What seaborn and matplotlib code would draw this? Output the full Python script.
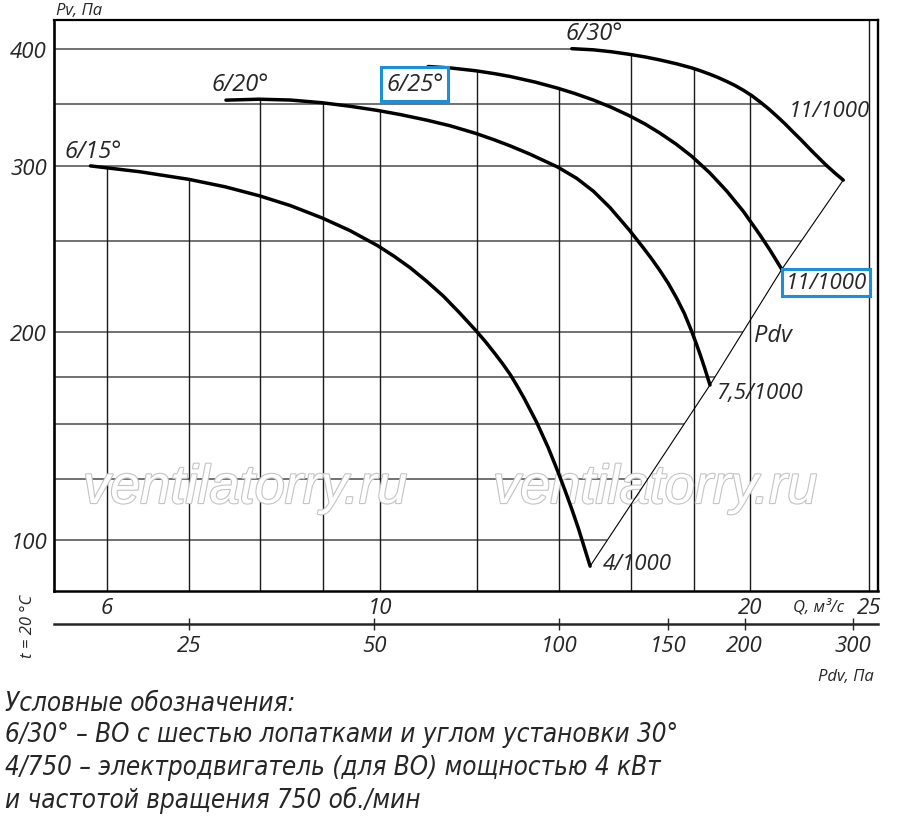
import numpy as np
import pandas as pd
import matplotlib
matplotlib.use("Agg")
import matplotlib.pyplot as plt
import seaborn as sns
from matplotlib import patheffects, font_manager
from matplotlib.ticker import NullLocator

# fan curves: Q (m3/s) and Pv (Pa)
q_15 = [5.82, 6.39, 7.00, 7.49, 7.98, 8.46, 8.98, 9.46, 9.96, 10.27, 10.59, 10.92, 11.27, 11.61, 11.97,
        12.19, 12.41, 12.59, 12.77, 12.93, 13.10, 13.42, 13.71, 13.96, 14.15, 14.33, 14.50, 14.64, 14.83]
pv_15 = [300.2, 295.9, 290.5, 285.3, 279.2, 272.6, 264.5, 256.5, 247.3, 241.0, 234.2, 226.6, 218.4, 209.8, 200.9,
         194.4, 187.5, 181.9, 176.1, 170.0, 163.4, 150.8, 138.8, 128.2, 119.9, 112.0, 104.7, 98.6, 90.9]

q_20 = [7.50, 7.98, 8.46, 8.98, 9.46, 9.96, 10.39, 10.92, 11.41, 11.97, 12.41, 12.77, 13.25, 13.96,
        14.46, 14.92, 15.39, 15.96, 16.38, 16.64, 16.90, 17.17, 17.44, 17.69, 17.94, 18.08, 18.22, 18.39, 18.56]
pv_20 = [353.4, 354.2, 353.5, 351.2, 348.2, 344.6, 341.1, 336.4, 331.7, 325.5, 320.1, 315.5, 309.1, 299.3,
         291.3, 282.3, 271.3, 256.8, 246.0, 239.4, 232.6, 225.3, 217.3, 209.4, 200.2, 193.7, 187.1, 178.9, 170.3]

q_25 = [10.95, 11.41, 11.97, 12.41, 12.77, 13.38, 13.96, 14.42, 14.92, 15.42, 15.96, 16.44, 16.90, 17.42,
        17.94, 18.56, 19.15, 19.76, 20.38, 20.77, 21.23]
pv_25 = [383.2, 381.9, 379.3, 376.6, 374.1, 369.1, 363.7, 359.0, 353.5, 347.4, 340.1, 333.1, 325.7, 316.9,
         307.4, 295.0, 282.4, 268.7, 253.8, 244.5, 233.3]

q_30 = [14.33, 14.92, 15.42, 15.96, 16.44, 16.90, 17.42, 17.94, 18.22, 18.56, 18.84, 19.15, 19.45, 19.76,
        20.08, 20.38, 20.69, 21.03, 21.36, 21.69, 22.01, 22.38, 22.72, 23.09, 23.46, 23.82]
pv_30 = [400.0, 398.9, 397.1, 394.6, 392.1, 389.3, 385.8, 381.9, 379.4, 376.1, 373.2, 369.7, 366.1, 361.9,
         357.1, 352.0, 346.4, 339.8, 333.3, 326.5, 320.3, 313.0, 306.8, 300.4, 294.9, 290.0]

curve_names = ["6/15°", "6/20°", "6/25°", "6/30°"]
motor_names = ["4/1000", "7,5/1000", "11/1000", "11/1000"]

q_grid = [6, 7, 8, 9, 10, 12, 14, 16, 18, 20, 25]
pv_grid = [100, 125, 150, 175, 200, 250, 300, 350, 400]
q_ticks = [6, 10, 20, 25]
pv_ticks = [100, 200, 300, 400]
pdv_ticks = [25, 50, 100, 150, 200, 300]
K_PDV = 0.51  # Pdv = K * Q^2

notes = ["Условные обозначения:",
         "6/30° – ВО с шестью лопатками и углом установки 30°",
         "4/750 – электродвигатель (для ВО) мощностью 4 кВт",
         "и частотой вращения 750 об./мин"]

# the chart's pressure axis is not a clean log scale, so use knots
KNOT_V = np.log([10, 100, 125, 150, 175, 200, 250, 300, 350, 400, 2000])
KNOT_P = -np.array([1170, 541, 480, 425, 377.5, 333, 242, 167, 105, 49.5, -610])


def fwd(v):
    return np.interp(np.log(np.maximum(np.asarray(v, float), 1e-6)), KNOT_V, KNOT_P)


def inv(p):
    return np.exp(np.interp(np.asarray(p, float), KNOT_P, KNOT_V))


sns.set_style("white")
TICK_FONT = ["Open Sans", "DejaVu Sans"]
plt.rcParams["font.family"] = TICK_FONT

# a narrow italic for the notes, whichever is installed
fonts = font_manager.fontManager.ttflist
if any(f.name == "Liberation Sans Narrow" for f in fonts):
    NOTE_FONT, NOTE_STRETCH = ["Liberation Sans Narrow", "DejaVu Sans"], "normal"
elif any(f.name == "DejaVu Sans" and str(f.stretch) == "condensed" for f in fonts):
    NOTE_FONT, NOTE_STRETCH = ["DejaVu Sans"], "condensed"
else:
    NOTE_FONT, NOTE_STRETCH = ["Roboto", "DejaVu Sans"], "normal"

fig = plt.figure(figsize=(9, 8.2), dpi=100)
ax = fig.add_axes([54 / 900, 1 - 592 / 820, (878 - 54) / 900, (592 - 21) / 820])
ax.set_xscale("log")
ax.set_yscale("function", functions=(fwd, inv))
XMIN, XMAX = 5.436, 25.42
YMIN, YMAX = 83.0, 429.0

curves = [(q_15, pv_15), (q_20, pv_20), (q_25, pv_25), (q_30, pv_30)]
pdv_q = [c[0][-1] for c in curves]
pdv_pv = [c[1][-1] for c in curves]


def level_end(h):
    fh = fwd(h)
    ends = []
    for q, pv in curves:
        k = int(np.argmax(pv))
        pp = fwd(pv[k:])
        qq = np.log(q[k:])
        if pp.min() <= fh <= pp.max():
            ends.append(np.interp(fh, pp[::-1], qq[::-1]))
    pp = fwd(pdv_pv)
    if pp.min() <= fh <= pp.max():
        ends.append(np.interp(fh, pp, np.log(pdv_q)))
    return np.exp(max(ends)) if ends else XMAX


def column_top(qv):
    tops = []
    for q, pv in curves:
        if q[0] <= qv <= q[-1]:
            tops.append(np.interp(np.log(qv), np.log(q), fwd(pv)))
    return inv(max(tops)) if tops else YMAX


ax.hlines(pv_grid, XMIN, [level_end(h) for h in pv_grid], color="#4a4a4a", lw=1.1, zorder=1)
ax.vlines(q_grid, YMIN, [column_top(q) for q in q_grid], color="#1a1a1a", lw=1.0, zorder=1)

# watermark
for xc in (245, 655):
    ax.text(xc / 900, 1 - 490 / 820, "ventilatorry.ru", transform=fig.transFigure,
            ha="center", va="center", fontsize=39, fontstyle="italic",
            family=["Liberation Sans", "DejaVu Sans"], color="white", zorder=2,
            path_effects=[patheffects.withStroke(linewidth=1.6, foreground="#c4c4c4")])

for q, pv in curves:
    df = pd.DataFrame({"Q": q, "Pv": pv})
    sns.lineplot(data=df, x="Q", y="Pv", ax=ax, color="black", linewidth=2.5,
                 estimator=None, sort=False, zorder=3)
df_pdv = pd.DataFrame({"Q": pdv_q, "Pv": pdv_pv})
sns.lineplot(data=df_pdv, x="Q", y="Pv", ax=ax, color="black", linewidth=0.8,
             estimator=None, sort=False, zorder=3)

ax.set_xlim(XMIN, XMAX)
ax.set_ylim(YMIN, YMAX)
ax.set_xlabel("")
ax.set_ylabel("")

ax.set_xticks(q_ticks)
ax.set_xticklabels([str(t) for t in q_ticks])
ax.xaxis.set_minor_locator(NullLocator())
ax.set_yticks(pv_ticks)
ax.set_yticklabels([str(t) for t in pv_ticks])
ax.yaxis.set_minor_locator(NullLocator())
ax.tick_params(axis="x", length=0, pad=4, labelsize=16)
ax.tick_params(axis="y", length=0, pad=5, labelsize=16)
for lab in ax.get_xticklabels() + ax.get_yticklabels():
    lab.set_fontstyle("italic")

for side, lw in [("left", 1.9), ("bottom", 1.8), ("top", 1.6), ("right", 1.7)]:
    ax.spines[side].set_visible(True)
    ax.spines[side].set_linewidth(lw)
    ax.spines[side].set_color("black")

# dynamic pressure axis under the flow axis
sec = ax.secondary_xaxis(-0.058, functions=(lambda q: K_PDV * np.asarray(q) ** 2,
                                             lambda p: np.sqrt(np.maximum(p, 1e-9) / K_PDV)))
sec.set_xticks(pdv_ticks)
sec.set_xticklabels([str(t) for t in pdv_ticks])
sec.xaxis.set_minor_locator(NullLocator())
sec.tick_params(direction="inout", length=9, width=1.0, pad=3, labelsize=16)
sec.spines["bottom"].set_linewidth(1.8)
for lab in sec.get_xticklabels():
    lab.set_fontstyle("italic")

# curve and motor labels
BLUE = "#1b8fd8"
label_offsets = [(2, 11), (10, 11.5), (-9.5, -12.5), (16, 11)]
for (q, pv), name, off in zip(curves, curve_names, label_offsets):
    box = dict(boxstyle="square,pad=0.2", fc="white", ec=BLUE, lw=2.2) if name == "6/25°" else None
    ax.annotate(name, xy=(q[0], pv[0]), xytext=off, textcoords="offset points",
                ha="center", va="center", fontsize=17, fontstyle="italic", bbox=box, zorder=4)

motor_offsets = [(34, 2), (36, -5.5), (32, -9.5), (-10, 50)]
for (q, pv), name, off, boxed in zip(curves, motor_names, motor_offsets, [False, False, True, False]):
    box = dict(boxstyle="square,pad=0.15", fc="white", ec=BLUE, lw=2.2) if boxed else None
    ax.annotate(name, xy=(q[-1], pv[-1]), xytext=off, textcoords="offset points",
                ha="center", va="center", fontsize=16, fontstyle="italic", bbox=box, zorder=4)

ax.annotate("Pdv", xy=(q_20[-1], pv_20[-1]), xytext=(45, 36), textcoords="offset points",
            ha="center", va="center", fontsize=17, fontstyle="italic", zorder=4)

small = dict(fontsize=12, fontstyle="italic", ha="center", va="center")
fig.text(79 / 900, 1 - 11 / 820, "Pv, Па", **small)
fig.text(819 / 900, 1 - 607 / 820, "Q, м³/с", **small)
fig.text(846 / 900, 1 - 677 / 820, "Pdv, Па", **small)
fig.text(28 / 900, 1 - 626 / 820, "t = 20 °C", rotation=90, **small)

for s, b in zip(notes, [711, 742, 775, 808]):
    fig.text(5 / 900, 1 - b / 820, s, ha="left", va="baseline", fontsize=18.6,
             fontstyle="italic", fontstretch=NOTE_STRETCH, family=NOTE_FONT)

fig.savefig("out.png", dpi=100)
